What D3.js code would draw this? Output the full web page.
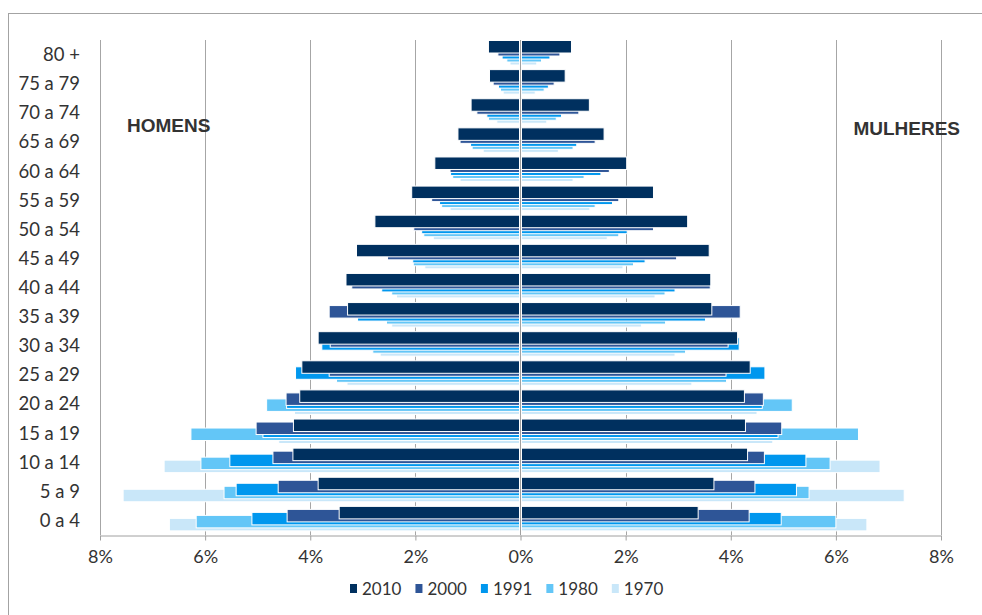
<!DOCTYPE html>
<html>
<head>
<meta charset="utf-8">
<script src="https://cdnjs.cloudflare.com/ajax/libs/d3/7.8.5/d3.min.js"></script>
<style>
	body { margin: 0; background: #fff; }
	text { font-family: Lato, "Liberation Sans", sans-serif; fill: #333; }
</style>
</head>
<body>
<svg id="pyramid" width="982" height="615"></svg>
<script>
// age groups, top of the pyramid first
const ages = ["80 +", "75 a 79", "70 a 74", "65 a 69", "60 a 64", "55 a 59", "50 a 54", "45 a 49",
	"40 a 44", "35 a 39", "30 a 34", "25 a 29", "20 a 24", "15 a 19", "10 a 14", "5 a 9", "0 a 4"];

const years = ["2010", "2000", "1991", "1980", "1970"];
const colors = ["#00305f", "#2e5597", "#0097ee", "#63c6f7", "#c9e7f9"];

// % of population, men (left side)
const men2010 = [0.61, 0.59, 0.94, 1.19, 1.63, 2.07, 2.77, 3.12, 3.32, 3.29, 3.85, 4.16, 4.20, 4.32, 4.33, 3.85, 3.45];
const men2000 = [0.43, 0.52, 0.83, 1.15, 1.34, 1.69, 2.03, 2.53, 3.21, 3.64, 3.62, 3.64, 4.46, 5.03, 4.71, 4.61, 4.44];
const men1991 = [0.35, 0.42, 0.64, 0.95, 1.33, 1.54, 1.88, 2.05, 2.64, 3.10, 3.78, 4.28, 4.45, 4.90, 5.53, 5.41, 5.11];
const men1980 = [0.26, 0.38, 0.61, 0.92, 1.29, 1.50, 1.84, 2.04, 2.45, 2.55, 2.81, 3.50, 4.83, 6.27, 6.08, 5.64, 6.17];
const men1970 = [0.20, 0.33, 0.45, 0.71, 1.15, 1.34, 1.66, 1.82, 2.36, 2.45, 2.67, 3.30, 4.30, 4.60, 6.78, 7.56, 6.68];

// % of population, women (right side)
const women2010 = [0.97, 0.85, 1.31, 1.59, 2.02, 2.53, 3.18, 3.59, 3.62, 3.64, 4.13, 4.37, 4.26, 4.28, 4.32, 3.68, 3.38];
const women2000 = [0.75, 0.64, 1.11, 1.42, 1.69, 1.87, 2.53, 2.97, 3.61, 4.18, 3.95, 3.91, 4.62, 4.97, 4.64, 4.46, 4.35];
const women1991 = [0.56, 0.53, 0.78, 1.07, 1.53, 1.75, 2.03, 2.37, 2.94, 3.52, 4.16, 4.65, 4.60, 4.90, 5.43, 5.25, 4.96];
const women1980 = [0.40, 0.45, 0.68, 1.00, 1.21, 1.42, 1.87, 2.15, 2.75, 2.76, 3.14, 3.92, 5.17, 6.43, 5.89, 5.49, 6.00];
const women1970 = [0.31, 0.28, 0.50, 0.72, 1.00, 1.32, 1.65, 1.95, 2.56, 2.30, 2.94, 3.26, 4.50, 4.80, 6.84, 7.30, 6.59];

const xTicks = [-8, -6, -4, -2, 0, 2, 4, 6, 8];

const menData = [men2010, men2000, men1991, men1980, men1970];
const womenData = [women2010, women2000, women1991, women1980, women1970];

const svg = d3.select("#pyramid");

// chart frame
svg.append("rect")
	.attr("x", 8.5).attr("y", 13.5)
	.attr("width", 990).attr("height", 620)
	.attr("fill", "none")
	.attr("stroke", "#a3a3a3");

const x = d3.scaleLinear().domain([-8, 8]).range([100, 941]);
const y = d3.scaleBand().domain(ages).range([40, 535]);

// vertical gridlines
svg.append("g").selectAll("line")
	.data(xTicks.filter(d => d !== 0))
	.enter()
	.append("line")
	.attr("x1", d => Math.round(x(d)) + 0.5)
	.attr("x2", d => Math.round(x(d)) + 0.5)
	.attr("y1", 40).attr("y2", 535)
	.attr("stroke", "#a6a6a6");

// bars: one row per year, each year a little lower, oldest drawn first
const offset = 3, barH = 12.5;
const rows = [];
years.forEach(function(yr, k) {
	ages.forEach(function(a, i) {
		rows.push({k: k, age: a, side: -1, v: menData[k][i]});
		rows.push({k: k, age: a, side: 1, v: womenData[k][i]});
	});
});
rows.sort((a, b) => b.k - a.k);

svg.append("g").selectAll("rect")
	.data(rows)
	.enter()
	.append("rect")
	.attr("x", d => d.side < 0 ? x(-d.v) : x(0) + 1)
	.attr("width", d => x(d.v) - x(0) - 1)
	.attr("y", d => y(d.age) + 0.5 + d.k * offset)
	.attr("height", barH)
	.attr("fill", d => colors[d.k])
	.attr("stroke", "#fff")
	.attr("stroke-width", 1);

// centre axis on top of the bars
svg.append("line")
	.attr("x1", x(0)).attr("x2", x(0))
	.attr("y1", 40).attr("y2", 535)
	.attr("stroke", "#a0a0a0");

// x axis
const xAxis = d3.axisBottom(x)
	.tickValues(xTicks)
	.tickSize(5)
	.tickSizeOuter(0)
	.tickPadding(10)
	.tickFormat(d => Math.abs(d) + "%");

const gx = svg.append("g").attr("transform", "translate(0,535.5)").call(xAxis);
gx.select(".domain").attr("stroke", "#a0a0a0");
gx.selectAll(".tick line").attr("stroke", "#a0a0a0");
gx.selectAll(".tick text")
	.style("font-family", "Lato, 'Liberation Sans', sans-serif")
	.style("font-size", "18px")
	.attr("fill", "#333");

// age labels
svg.append("g").selectAll("text")
	.data(ages)
	.enter()
	.append("text")
	.attr("x", 80)
	.attr("y", d => y(d) + y.bandwidth() / 2)
	.attr("dy", "0.35em")
	.attr("text-anchor", "end")
	.style("font-size", "18.5px")
	.text(d => d);

// side titles
svg.append("text")
	.attr("x", 127).attr("y", 125).attr("dy", "0.35em")
	.style("font-family", "'Liberation Sans', Arial, sans-serif")
	.style("font-weight", "bold")
	.style("font-size", "19px")
	.attr("fill", "#111")
	.text("HOMENS");

svg.append("text")
	.attr("x", 960).attr("y", 128).attr("dy", "0.35em")
	.attr("text-anchor", "end")
	.style("font-family", "'Liberation Sans', Arial, sans-serif")
	.style("font-weight", "bold")
	.style("font-size", "19px")
	.attr("fill", "#111")
	.text("MULHERES");

// legend
const legend = svg.append("g");
let lx = 350;
years.forEach(function(yr, k) {
	legend.append("rect")
		.attr("x", lx).attr("y", 584)
		.attr("width", 7).attr("height", 9)
		.attr("fill", colors[k]);
	const t = legend.append("text")
		.attr("x", lx + 12).attr("y", 589).attr("dy", "0.35em")
		.style("font-size", "17px")
		.text(yr);
	lx += 12 + t.node().getComputedTextLength() + 14;
});
</script>
</body>
</html>
